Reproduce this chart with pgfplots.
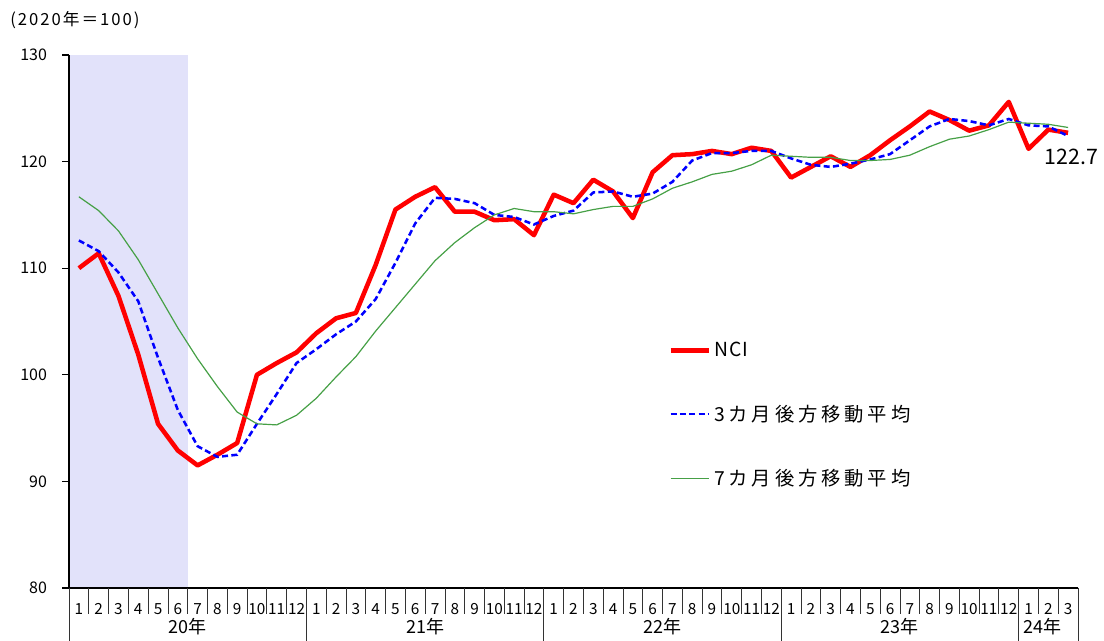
\documentclass[border=0pt]{standalone}
\usepackage{fontspec}
\setmainfont{Noto Sans CJK JP}
\usepackage{pgfplots}
\usepackage{pgfplotstable}
\pgfplotsset{compat=1.18}
\definecolor{covidshade}{RGB}{226,226,250}
\definecolor{ncired}{RGB}{255,0,0}
\definecolor{mablue}{RGB}{0,0,255}
\definecolor{magreen}{RGB}{70,160,70}

\pgfplotstableread{
m nci ma3 ma7
1 110.0 112.6 116.7
2 111.4 111.6 115.4
3 107.4 109.6 113.5
4 101.9 106.9 110.8
5 95.4 101.6 107.6
6 92.9 96.7 104.4
7 91.5 93.3 101.5
8 92.5 92.3 98.9
9 93.6 92.5 96.5
10 100.0 95.4 95.4
11 101.1 98.2 95.3
12 102.1 101.1 96.2
13 103.9 102.4 97.8
14 105.3 103.8 99.8
15 105.8 105.0 101.7
16 110.3 107.1 104.1
17 115.5 110.5 106.3
18 116.7 114.2 108.5
19 117.6 116.6 110.7
20 115.3 116.5 112.4
21 115.3 116.1 113.8
22 114.5 115.0 115.0
23 114.6 114.8 115.6
24 113.1 114.1 115.3
25 116.9 114.9 115.3
26 116.1 115.4 115.1
27 118.3 117.1 115.5
28 117.2 117.2 115.8
29 114.7 116.7 115.8
30 119.0 117.0 116.5
31 120.6 118.1 117.5
32 120.7 120.1 118.1
33 121.0 120.8 118.8
34 120.7 120.8 119.1
35 121.3 121.0 119.7
36 121.0 121.0 120.6
37 118.5 120.3 120.5
38 119.5 119.7 120.4
39 120.5 119.5 120.4
40 119.5 119.8 120.1
41 120.6 120.2 120.1
42 122.0 120.7 120.2
43 123.3 122.0 120.6
44 124.7 123.3 121.4
45 123.9 124.0 122.1
46 122.9 123.8 122.4
47 123.4 123.4 123.0
48 125.6 124.0 123.7
49 121.2 123.4 123.6
50 123.0 123.3 123.5
51 122.7 122.4 123.2
}\datatable

\begin{document}
\begin{tikzpicture}
\path[use as bounding box, x=0.75pt, y=0.75pt] (-69,-53) rectangle (1035,588);
\begin{axis}[
  at={(0,0)}, anchor=south west,
  scale only axis, width=756.75pt, height=399.75pt,
  xmin=0.5, xmax=51.5, ymin=80, ymax=130,
  clip=false,
  axis lines*=left,
  axis on top,
  axis line style={line width=0.8pt, black},
  tick align=outside,
  major tick length=5pt,
  tick style={line width=0.8pt, black},
  ytick={80,90,...,130},
  /pgf/number format/assume math mode=true,
  yticklabel style={font=\fontsize{12}{14}\selectfont, anchor=east, xshift=-8pt},
  xtick={1,...,51},
  xticklabels={1,2,3,4,5,6,7,8,9,10,11,12,1,2,3,4,5,6,7,8,9,10,11,12,1,2,3,4,5,6,7,8,9,10,11,12,1,2,3,4,5,6,7,8,9,10,11,12,1,2,3},
  xtick style={draw=none},
  xticklabel style={font=\fontsize{11.5}{13}\selectfont, anchor=base, yshift=-14.8pt},
  legend style={at={(0.5937,0.3246)}, anchor=west, draw=none, fill=none,
    font=\fontsize{14.5}{16}\selectfont, row sep=30.5pt, inner xsep=0pt},
  legend cell align=left,
  legend image code/.code={\draw[#1] (0pt,0pt) -- (29pt,0pt);},
]
\fill[covidshade] (axis cs:0.5,80) rectangle (axis cs:6.5,130);
\addplot[ncired, line width=3.4pt, line join=round] table[x=m, y=nci] {\datatable};
\addlegendentry{\addfontfeatures{LetterSpace=5}NCI}
\addplot[mablue, line width=1.9pt, dash pattern=on 4.5pt off 2.5pt] table[x=m, y=ma3] {\datatable};
\addlegendentry{\addfontfeatures{LetterSpace=20}3カ月後方移動平均}
\addplot[magreen, line width=0.9pt] table[x=m, y=ma7] {\datatable};
\addlegendentry{\addfontfeatures{LetterSpace=20}7カ月後方移動平均}
\node[anchor=north, inner sep=0pt, xshift=2.5pt, yshift=-12pt, font=\fontsize{16}{18}\selectfont] at (axis cs:51,122.7) {122.7};
\end{axis}
\begin{scope}[x=0.75pt, y=0.75pt]
\foreach \i in {0,...,51} \draw[line width=0.6pt, black!80] (\i*19.7843,0) -- (\i*19.7843,-26);
\foreach \i in {0,12,24,36,48,51} \draw[line width=0.6pt, black!80] (\i*19.7843,0) -- (\i*19.7843,-53);
\node[anchor=base, inner sep=0pt, font=\fontsize{13.5}{15}\selectfont] at (6*19.7843,-46) {20年};
\node[anchor=base, inner sep=0pt, font=\fontsize{13.5}{15}\selectfont] at (18*19.7843,-46) {21年};
\node[anchor=base, inner sep=0pt, font=\fontsize{13.5}{15}\selectfont] at (30*19.7843,-46) {22年};
\node[anchor=base, inner sep=0pt, font=\fontsize{13.5}{15}\selectfont] at (42*19.7843,-46) {23年};
\node[anchor=base, inner sep=0pt, font=\fontsize{13.5}{15}\selectfont] at (49.2*19.7843,-46) {24年};
\node[anchor=west, inner sep=0pt, font=\fontsize{12.5}{14}\selectfont\addfontfeatures{LetterSpace=12}] at (-59,568) {(2020年＝100)};
\end{scope}
\end{tikzpicture}
\end{document}
